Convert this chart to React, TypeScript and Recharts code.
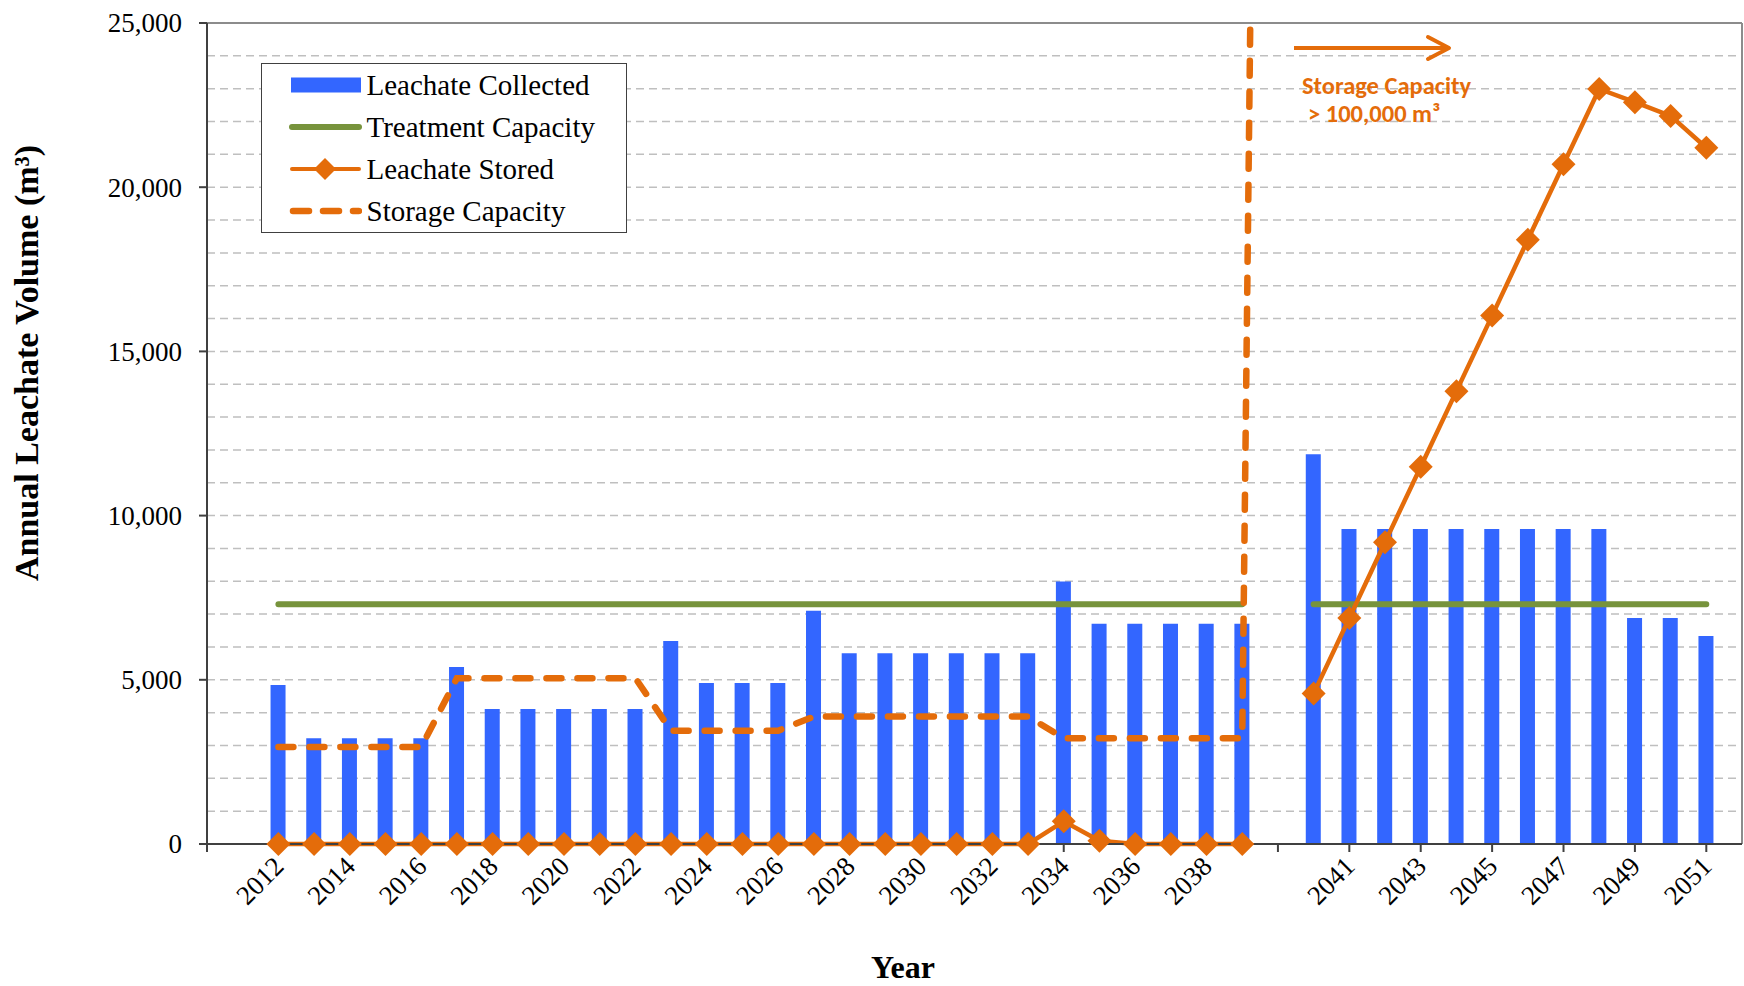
import React from 'react'
import { Bar, CartesianGrid, ComposedChart, Legend, Line, ReferenceLine, XAxis, YAxis } from 'recharts'

// '' marks the empty slot between 2039 and 2040
const YEARS = [
  '2012', '2013', '2014', '2015', '2016', '2017', '2018', '2019', '2020', '2021',
  '2022', '2023', '2024', '2025', '2026', '2027', '2028', '2029', '2030', '2031',
  '2032', '2033', '2034', '2035', '2036', '2037', '2038', '2039', '',
  '2040', '2041', '2042', '2043', '2044', '2045', '2046', '2047', '2048', '2049',
  '2050', '2051',
]

const LEACHATE_COLLECTED = [
  4840, 3220, 3220, 3220, 3220, 5390, 4110, 4110, 4110, 4110,
  4110, 6180, 4900, 4900, 4900, 7100, 5810, 5810, 5810, 5810,
  5810, 5810, 7990, 6710, 6710, 6710, 6710, 6710, null,
  11870, 9590, 9590, 9590, 9590, 9590, 9590, 9590, 9590, 6880,
  6880, 6330,
]

const TREATMENT_CAPACITY = [
  7300, 7300, 7300, 7300, 7300, 7300, 7300, 7300, 7300, 7300,
  7300, 7300, 7300, 7300, 7300, 7300, 7300, 7300, 7300, 7300,
  7300, 7300, 7300, 7300, 7300, 7300, 7300, 7300, null,
  7300, 7300, 7300, 7300, 7300, 7300, 7300, 7300, 7300, 7300,
  7300, 7300,
]

const LEACHATE_STORED = [
  0, 0, 0, 0, 0, 0, 0, 0, 0, 0,
  0, 0, 0, 0, 0, 0, 0, 0, 0, 0,
  0, 0, 690, 100, 0, 0, 0, 0, null,
  4580, 6880, 9190, 11490, 13790, 16090, 18400, 20700, 22990, 22590,
  22170, 21200,
]

// the gap slot jumps to the >100,000 m3 capacity, far above the axis
const STORAGE_CAPACITY = [
  2950, 2950, 2950, 2950, 2950, 5050, 5050, 5050, 5050, 5050,
  5050, 3450, 3450, 3450, 3450, 3880, 3880, 3880, 3880, 3880,
  3880, 3880, 3220, 3220, 3220, 3220, 3220, 3220, 100000,
  null, null, null, null, null, null, null, null, null, null,
  null, null,
]

const Y_MAX = 25000
const Y_MAJOR = 5000
const GRID_VALUES = Array.from({ length: 26 }, (_, i) => i * 1000)
// two empty slots before 2012, one after 2051
const FIRST_POS = 2
const X_MAX = 43
const X_TICKS = [0, 2, 4, 6, 8, 10, 12, 14, 16, 18, 20, 22, 24, 26, 28, 30, 32, 34, 36, 38, 40, 42]

const data = YEARS.map((year, i) => ({
  pos: i + FIRST_POS,
  year,
  collected: LEACHATE_COLLECTED[i],
  treatment: TREATMENT_CAPACITY[i],
  stored: LEACHATE_STORED[i],
  capacity: STORAGE_CAPACITY[i],
}))

const BLUE = '#3366ff'
const GREEN = '#77933c'
const ORANGE = '#e46c0a'
const AXIS = '#404040'
const BORDER = '#8c8c8c'
const SERIF = '"Liberation Serif", "Times New Roman", serif'
const SANS = 'Carlito, Lato, "Liberation Sans", sans-serif'
const CAP_DASH = '15 16'

const labelForPos = (pos: number) => (pos < FIRST_POS ? '' : YEARS[pos - FIRST_POS] ?? '')

const XTick = (props: any) => {
  const { x, y, payload } = props
  const label = labelForPos(payload.value)
  if (!label) return <g />
  const ax = x + 7
  const ay = y + 16
  return (
    <text x={ax} y={ay} transform={`rotate(-45 ${ax} ${ay})`} textAnchor="end" fontSize={27} fontFamily={SERIF} fill="#000">
      {label}
    </text>
  )
}

const YTick = (props: any) => {
  const { x, y, payload } = props
  if (payload.value % Y_MAJOR !== 0) return <g />
  return (
    <g>
      <line x1={x + 17} x2={x + 25} y1={y} y2={y} stroke={AXIS} strokeWidth={2} />
      <text x={x} y={y} dy="0.35em" textAnchor="end" fontSize={27} fontFamily={SERIF} fill="#000">
        {payload.value.toLocaleString('en-US')}
      </text>
    </g>
  )
}

const renderDiamond = (props: any) => {
  const { cx, cy, index } = props
  if (cx == null || cy == null) return <g key={`d-${index}`} />
  return <polygon key={`d-${index}`} points={`${cx},${cy - 12} ${cx + 12},${cy} ${cx},${cy + 12} ${cx - 12},${cy}`} fill={ORANGE} />
}

const LEGEND_ROWS = [
  { label: 'Leachate Collected', kind: 'bar' },
  { label: 'Treatment Capacity', kind: 'green' },
  { label: 'Leachate Stored', kind: 'stored' },
  { label: 'Storage Capacity', kind: 'capacity' },
]

function LegendIcon({ kind }: { kind: string }) {
  return (
    <svg width={100} height={42}>
      {kind === 'bar' && <rect x={29} y={13.5} width={70} height={15} fill={BLUE} />}
      {kind === 'green' && <line x1={30} x2={97} y1={21} y2={21} stroke={GREEN} strokeWidth={6} strokeLinecap="round" />}
      {kind === 'stored' && (
        <g>
          <line x1={30} x2={97} y1={21} y2={21} stroke={ORANGE} strokeWidth={4} strokeLinecap="round" />
          <polygon points="63,10 74,21 63,32 52,21" fill={ORANGE} />
        </g>
      )}
      {kind === 'capacity' && (
        <line x1={31} x2={97} y1={21} y2={21} stroke={ORANGE} strokeWidth={6.5} strokeDasharray="16 14" strokeLinecap="round" />
      )}
    </svg>
  )
}

const renderLegend = () => (
  <div style={{ boxSizing: 'border-box', width: 366, height: 170, border: `1.5px solid ${AXIS}`, background: '#fff' }}>
    {LEGEND_ROWS.map((r) => (
      <div key={r.label} style={{ display: 'flex', alignItems: 'center', height: 42 }}>
        <LegendIcon kind={r.kind} />
        <span style={{ marginLeft: 4.5, fontFamily: SERIF, fontSize: 29, color: '#000', whiteSpace: 'nowrap' }}>{r.label}</span>
      </div>
    ))}
  </div>
)

export default function App() {
  return (
    <div style={{ position: 'absolute', left: 0, top: 0, width: 1744, height: 986, background: '#fff' }}>
      <ComposedChart width={1744} height={986} data={data} margin={{ top: 23, right: 2, bottom: 42, left: 87 }}>
        <CartesianGrid vertical={false} stroke="#bfbfbf" strokeDasharray="8 5" strokeWidth={1.5} />
        <XAxis
          type="number"
          dataKey="pos"
          domain={[0, X_MAX]}
          ticks={X_TICKS}
          interval={0}
          height={100}
          tickSize={8}
          tickMargin={0}
          tick={XTick}
          axisLine={{ stroke: AXIS, strokeWidth: 2 }}
          tickLine={{ stroke: AXIS, strokeWidth: 2 }}
        />
        <YAxis
          domain={[0, Y_MAX]}
          ticks={GRID_VALUES}
          interval={0}
          width={120}
          tickSize={8}
          tickMargin={17}
          tick={YTick}
          tickLine={false}
          axisLine={{ stroke: AXIS, strokeWidth: 2 }}
        />
        {/* same scale, but lets the capacity line run off the top and be clipped */}
        <YAxis yAxisId="cap" domain={[0, Y_MAX]} allowDataOverflow hide />
        <ReferenceLine y={Y_MAX} stroke={BORDER} strokeWidth={2} />
        <ReferenceLine x={X_MAX} stroke={BORDER} strokeWidth={2} />
        <Bar dataKey="collected" name="Leachate Collected" fill={BLUE} barSize={15} isAnimationActive={false} />
        <Line
          dataKey="treatment"
          name="Treatment Capacity"
          stroke={GREEN}
          strokeWidth={6}
          strokeLinecap="round"
          dot={false}
          activeDot={false}
          isAnimationActive={false}
        />
        <Line
          yAxisId="cap"
          dataKey="capacity"
          name="Storage Capacity"
          stroke={ORANGE}
          strokeWidth={6.5}
          strokeDasharray={CAP_DASH}
          strokeLinecap="round"
          dot={false}
          activeDot={false}
          isAnimationActive={false}
        />
        <Line
          dataKey="stored"
          name="Leachate Stored"
          stroke={ORANGE}
          strokeWidth={4.5}
          dot={renderDiamond}
          activeDot={false}
          isAnimationActive={false}
        />
        <Legend
          layout="vertical"
          align="center"
          verticalAlign="middle"
          wrapperStyle={{ left: 261, top: 63, width: 366, height: 170 }}
          content={renderLegend}
        />
      </ComposedChart>
      <svg width={1744} height={986} style={{ position: 'absolute', left: 0, top: 0, pointerEvents: 'none' }}>
        <text x={38} y={363} transform="rotate(-90 38 363)" textAnchor="middle" fontSize={34} fontWeight="bold" fontFamily={SERIF} fill="#000">
          Annual Leachate Volume (m³)
        </text>
        <text x={903} y={978} textAnchor="middle" fontSize={32} fontWeight="bold" fontFamily={SERIF} fill="#000">
          Year
        </text>
        <line x1={1294} x2={1446} y1={48} y2={48} stroke={ORANGE} strokeWidth={4} />
        <polyline points="1428,37 1449,48 1428,59" fill="none" stroke={ORANGE} strokeWidth={4} strokeLinecap="round" strokeLinejoin="round" />
        <text x={1302} y={94} fontSize={24.5} fontWeight="bold" fontFamily={SANS} fill={ORANGE}>
          Storage Capacity
        </text>
        <text x={1308} y={122} fontSize={24.5} fontWeight="bold" fontFamily={SANS} fill={ORANGE}>
          {'> 100,000 m³'}
        </text>
      </svg>
    </div>
  )
}
